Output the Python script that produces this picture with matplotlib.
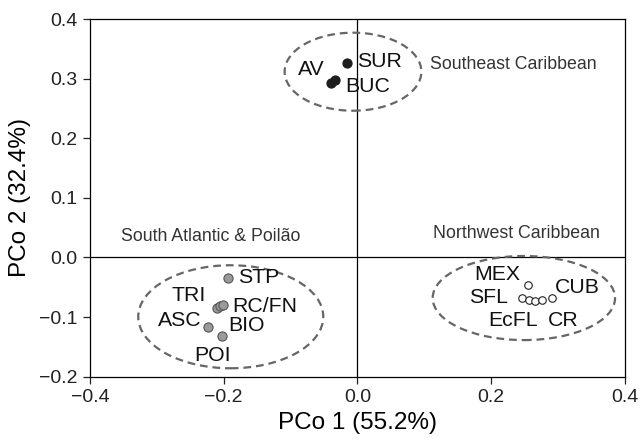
import matplotlib
matplotlib.use("Agg")
import matplotlib.pyplot as plt
from matplotlib.patches import Ellipse

plt.rcParams['font.family'] = ['Liberation Sans', 'DejaVu Sans']

# PCo scores
se_x = [-0.016, -0.034, -0.039]
se_y = [0.326, 0.298, 0.292]

sa_x = [-0.193, -0.2106, -0.2057, -0.2007, -0.2232, -0.2031]
sa_y = [-0.034, -0.0844, -0.081, -0.0799, -0.1163, -0.1314]

nw_x = [0.255, 0.246, 0.256, 0.266, 0.276, 0.291]
nw_y = [-0.046, -0.0676, -0.0715, -0.0727, -0.0715, -0.0686]

# site labels: text, x, y, horizontal alignment
site_labels = [
    ("AV", -0.0486, 0.316, "right"),
    ("SUR", 0.0, 0.328, "left"),
    ("BUC", -0.0187, 0.2876, "left"),
    ("STP", -0.178, -0.0337, "left"),
    ("TRI", -0.2266, -0.063, "right"),
    ("RC/FN", -0.188, -0.0827, "left"),
    ("ASC", -0.233, -0.105, "right"),
    ("BIO", -0.193, -0.1134, "left"),
    ("POI", -0.217, -0.1638, "center"),
    ("MEX", 0.243, -0.0279, "right"),
    ("SFL", 0.2256, -0.0673, "right"),
    ("CUB", 0.2954, -0.0505, "left"),
    ("EcFL", 0.1957, -0.105, "left"),
    ("CR", 0.2854, -0.105, "left"),
]

# group ellipses: centre x, centre y, width, height
groups = [
    (-0.0067, 0.3116, 0.2045, 0.1309),
    (-0.1895, -0.0995, 0.2767, 0.1728),
    (0.2488, -0.0681, 0.2727, 0.141),
]

region_labels = [
    ("Southeast Caribbean", 0.108, 0.323),
    ("South Atlantic & Poilão", -0.353, 0.035),
    ("Northwest Caribbean", 0.113, 0.041),
]

fig = plt.figure(figsize=(6.41, 4.42), dpi=100)
ax = fig.add_axes([0.1404, 0.1478, 0.8346, 0.8092])

ax.axhline(0, color="black", lw=0.9, zorder=1)
ax.axvline(0, color="black", lw=0.9, zorder=1)

for cx, cy, w, h in groups:
    ax.add_patch(Ellipse((cx, cy), w, h, fill=False, ls=(0, (3.5, 2.2)),
                         lw=1.6, edgecolor="#666666", zorder=2))

ax.plot(se_x, se_y, "o", ms=6.4, mfc="#1e1e1e", mec="#1e1e1e", zorder=3)
ax.plot(sa_x, sa_y, "o", ms=6.6, mfc="#9a9a9a", mec="#555555", mew=0.8, zorder=3)
ax.plot(nw_x, nw_y, "o", ms=5.4, mfc="white", mec="#222222", mew=0.8, zorder=3)

for txt, x, y, ha in site_labels:
    ax.text(x, y, txt, ha=ha, va="center", fontsize=15.3, color="#111111", zorder=4)

for txt, x, y in region_labels:
    ax.text(x, y, txt, ha="left", va="center", fontsize=12.8, color="#333333")

ax.set_xlim(-0.4, 0.4)
ax.set_ylim(-0.2, 0.4)
ax.set_xticks([-0.4, -0.2, 0.0, 0.2, 0.4])
ax.set_yticks([-0.2, -0.1, 0.0, 0.1, 0.2, 0.3, 0.4])
ax.set_xticklabels(["\u22120.4", "\u22120.2", "0.0", "0.2", "0.4"])
ax.set_yticklabels(["\u22120.2", "\u22120.1", "0.0", "0.1", "0.2", "0.3", "0.4"])
ax.tick_params(direction="out", length=5, width=0.9, labelsize=14, pad=4,
               colors="#222222")
for s in ax.spines.values():
    s.set_linewidth(0.9)

ax.set_xlabel("PCo 1 (55.2%)", fontsize=17.5, labelpad=4)
ax.set_ylabel("PCo 2 (32.4%)", fontsize=17.5, labelpad=6)

fig.savefig("out.png", dpi=100)
